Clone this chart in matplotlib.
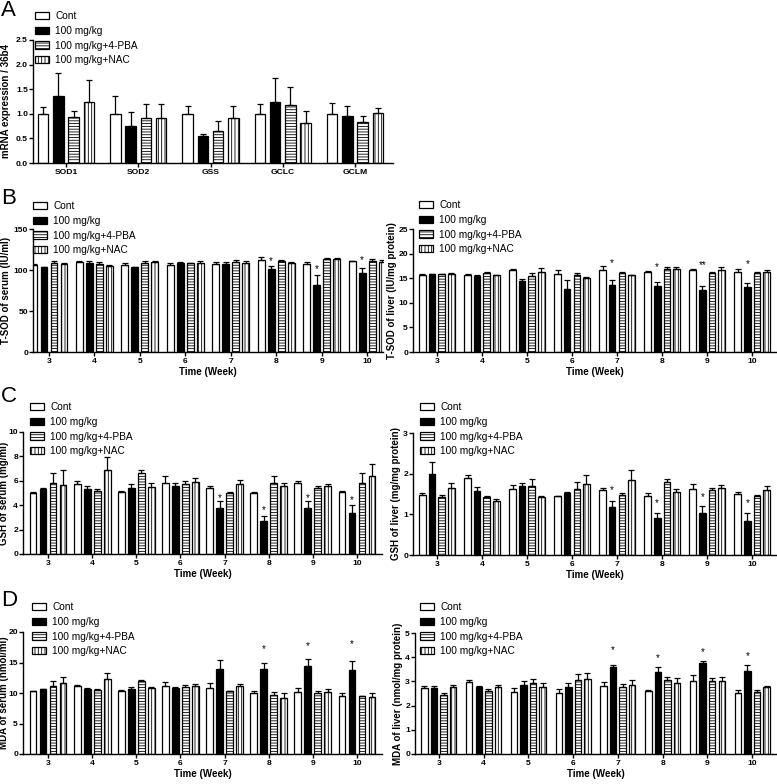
import numpy as np
import matplotlib
matplotlib.use('Agg')
import matplotlib.pyplot as plt

plt.rcParams['font.family'] = ['Liberation Sans', 'DejaVu Sans']
plt.rcParams['hatch.linewidth'] = 0.6

W, H = 777, 784

# ---- datos ----
groups = ['Cont', '100 mg/kg', '100 mg/kg+4-PBA', '100 mg/kg+NAC']
genes = ['SOD1', 'SOD2', 'GSS', 'GCLC', 'GCLM']
weeks = [3, 4, 5, 6, 7, 8, 9, 10]

# A: mRNA / 36b4
mrna_cont = [1.0, 1.0, 1.0, 1.0, 1.0]
mrna_cont_sem = [0.14, 0.37, 0.15, 0.20, 0.22]
mrna_high = [1.37, 0.76, 0.54, 1.25, 0.96]
mrna_high_sem = [0.45, 0.27, 0.05, 0.48, 0.19]
mrna_pba = [0.94, 0.92, 0.66, 1.17, 0.83]
mrna_pba_sem = [0.11, 0.28, 0.19, 0.37, 0.12]
mrna_nac = [1.23, 0.92, 0.91, 0.82, 1.01]
mrna_nac_sem = [0.45, 0.28, 0.24, 0.24, 0.11]

# B: T-SOD suero
sod_s_cont = [105.7, 109.3, 106.5, 106.1, 107.7, 112.6, 106.9, 110.6]
sod_s_cont_sem = [2.0, 2.1, 2.0, 2.0, 2.5, 2.8, 3.3, 0.8]
sod_s_high = [103.3, 108.5, 103.3, 108.1, 107.3, 100.8, 81.7, 96.7]
sod_s_high_sem = [0.6, 2.1, 0.5, 1.7, 2.5, 4.1, 12.2, 5.7]
sod_s_pba = [108.5, 107.7, 108.5, 108.5, 109.8, 111.4, 113.4, 111.4]
sod_s_pba_sem = [2.9, 2.1, 2.9, 0.5, 2.4, 0.8, 0.8, 2.0]
sod_s_nac = [107.7, 104.9, 109.3, 108.5, 108.5, 108.1, 113.4, 109.8]
sod_s_nac_sem = [1.3, 1.1, 2.1, 2.1, 2.5, 1.7, 0.8, 2.0]
sod_s_stars = [(8, 111.0, '*'), (9, 101.0, '*'), (10, 112.5, '*')]

# B: T-SOD higado
sod_l_cont = [15.6, 15.75, 16.75, 15.8, 16.75, 16.2, 16.75, 16.3]
sod_l_cont_sem = [0.35, 0.15, 0.15, 0.95, 0.65, 0.35, 0.2, 0.6]
sod_l_high = [15.8, 15.4, 14.5, 12.8, 13.7, 13.5, 12.6, 13.2]
sod_l_high_sem = [0.15, 0.2, 0.4, 1.9, 1.0, 0.75, 0.85, 0.9]
sod_l_pba = [15.8, 16.0, 15.35, 15.6, 16.0, 16.8, 16.1, 16.1]
sod_l_pba_sem = [0.15, 0.2, 0.8, 0.4, 0.2, 0.4, 0.25, 0.25]
sod_l_nac = [15.95, 15.55, 16.2, 15.1, 15.55, 16.95, 16.75, 16.2]
sod_l_nac_sem = [0.15, 0.15, 0.8, 0.2, 0.15, 0.3, 0.45, 0.4]
sod_l_stars = [(7, 18.1, '*'), (8, 17.3, '*'), (9, 17.7, '**'), (10, 17.9, '*')]

# C: GSH suero
gsh_s_cont = [5.0, 5.75, 5.1, 5.85, 5.45, 5.0, 5.8, 5.1]
gsh_s_cont_sem = [0.12, 0.25, 0.1, 0.55, 0.1, 0.1, 0.2, 0.1]
gsh_s_high = [5.35, 5.3, 5.4, 5.55, 3.8, 2.7, 3.8, 3.35]
gsh_s_high_sem = [0.1, 0.3, 0.35, 0.25, 0.55, 0.45, 0.55, 0.7]
gsh_s_pba = [5.8, 5.2, 6.65, 5.7, 5.0, 5.85, 5.45, 5.85]
gsh_s_pba_sem = [0.8, 0.15, 0.2, 0.3, 0.1, 0.55, 0.1, 0.75]
gsh_s_nac = [5.65, 6.9, 5.5, 5.9, 5.75, 5.55, 5.55, 6.4]
gsh_s_nac_sem = [1.25, 1.05, 0.3, 0.3, 0.35, 0.25, 0.2, 1.0]
gsh_s_stars = [(7, 4.6, '*'), (8, 3.6, '*'), (9, 4.6, '*'), (10, 4.4, '*')]

# C: GSH higado
gsh_l_cont = [1.48, 1.89, 1.62, 1.44, 1.61, 1.46, 1.62, 1.50]
gsh_l_cont_sem = [0.05, 0.07, 0.10, 0.02, 0.04, 0.07, 0.12, 0.05]
gsh_l_high = [1.98, 1.58, 1.69, 1.52, 1.19, 0.90, 1.03, 0.84]
gsh_l_high_sem = [0.30, 0.09, 0.09, 0.02, 0.15, 0.13, 0.17, 0.20]
gsh_l_pba = [1.43, 1.43, 1.70, 1.63, 1.48, 1.80, 1.59, 1.45]
gsh_l_pba_sem = [0.04, 0.02, 0.16, 0.16, 0.04, 0.06, 0.06, 0.02]
gsh_l_nac = [1.65, 1.34, 1.42, 1.74, 1.85, 1.56, 1.65, 1.61]
gsh_l_nac_sem = [0.11, 0.03, 0.03, 0.22, 0.24, 0.07, 0.06, 0.09]
gsh_l_stars = [(7, 1.59, '*'), (8, 1.27, '*'), (9, 1.43, '*'), (10, 1.28, '*')]

# D: MDA suero
mda_s_cont = [10.3, 11.1, 10.4, 11.15, 10.8, 10.0, 10.1, 9.5]
mda_s_cont_sem = [0.1, 0.15, 0.05, 0.6, 0.8, 0.3, 0.75, 0.55]
mda_s_high = [10.6, 10.6, 10.65, 10.85, 14.0, 13.9, 14.4, 13.8]
mda_s_high_sem = [0.1, 0.3, 0.4, 0.2, 1.4, 1.1, 1.1, 1.5]
mda_s_pba = [11.1, 10.5, 11.9, 11.0, 10.3, 9.7, 10.0, 9.5]
mda_s_pba_sem = [0.8, 0.1, 0.2, 0.3, 0.1, 0.4, 0.3, 0.05]
mda_s_nac = [11.7, 12.3, 10.8, 11.2, 11.1, 9.2, 10.1, 9.3]
mda_s_nac_sem = [1.0, 1.0, 0.25, 0.3, 0.3, 0.8, 0.55, 0.65]
mda_s_stars = [(8, 17.2, '*'), (9, 17.7, '*'), (10, 18.0, '*')]

# D: MDA higado
mda_l_cont = [2.72, 2.97, 2.58, 2.52, 2.83, 2.60, 3.0, 2.52]
mda_l_cont_sem = [0.10, 0.10, 0.14, 0.16, 0.14, 0.06, 0.25, 0.13]
mda_l_high = [2.72, 2.78, 2.85, 2.75, 3.60, 3.40, 3.75, 3.45]
mda_l_high_sem = [0.11, 0.05, 0.18, 0.17, 0.07, 0.20, 0.08, 0.22]
mda_l_pba = [2.45, 2.60, 2.95, 3.05, 2.75, 3.05, 3.0, 2.55]
mda_l_pba_sem = [0.07, 0.07, 0.15, 0.25, 0.13, 0.15, 0.12, 0.08]
mda_l_nac = [2.75, 2.75, 2.77, 3.10, 2.85, 2.95, 3.0, 2.75]
mda_l_nac_sem = [0.12, 0.10, 0.15, 0.25, 0.20, 0.17, 0.20, 0.07]
mda_l_stars = [(7, 4.28, '*'), (8, 3.98, '*'), (9, 4.2, '*'), (10, 4.04, '*')]

# estilos de las barras
styles = [dict(facecolor='white', hatch=None),
          dict(facecolor='black', hatch=None),
          dict(facecolor='white', hatch='------'),
          dict(facecolor='white', hatch='|||||')]

fig = plt.figure(figsize=(W / 100, H / 100), dpi=100)


def make_ax(l, t, r, b):
    ax = fig.add_axes([l / W, 1 - b / H, (r - l) / W, (b - t) / H])
    ax._px = (l, t, r, b)
    return ax


def panel(ax, xs, series, sems, slot, width, ylim, yticks, ylabel, xlabel,
          xticklabels, xlim, leg_xy, ylab_x, stars=None, yfmt=None):
    xs = np.arange(len(xs)) if xticklabels is not None else np.array(xs, float)
    offs = (np.arange(4) - 1.5) * slot
    for i in range(4):
        ax.bar(xs + offs[i], series[i], width, edgecolor='black', linewidth=0.9,
               label=groups[i], zorder=2, **styles[i])
        ax.errorbar(xs + offs[i], series[i],
                    yerr=[np.zeros(len(xs)), sems[i]], fmt='none',
                    ecolor='black', elinewidth=0.9, capsize=2.0, capthick=0.9,
                    zorder=3)
    if stars:
        for wk, y, s in stars:
            ax.text(wk + offs[1], y, s, ha='center', va='center', fontsize=7)
    ax.set_xlim(*xlim)
    ax.set_ylim(*ylim)
    ax.set_yticks(yticks)
    if yfmt:
        ax.set_yticklabels([yfmt % v for v in yticks])
    ax.set_xticks(xs)
    if xticklabels is not None:
        ax.set_xticklabels(xticklabels)
    else:
        ax.set_xticklabels([str(w) for w in weeks])
    for s in ['top', 'right']:
        ax.spines[s].set_visible(False)
    for s in ['left', 'bottom']:
        ax.spines[s].set_linewidth(1.0)
    ax.tick_params(axis='both', length=3, width=1.0, labelsize=6.1, pad=1.0)
    ax.tick_params(axis='y', pad=0.6)
    for lab in ax.get_xticklabels() + ax.get_yticklabels():
        lab.set_fontweight('bold')
    ax.set_ylabel(ylabel, fontsize=7.0, fontweight='bold')
    l, t, r, b = ax._px
    ax.yaxis.set_label_coords((ylab_x - l) / (r - l), 0.5)
    ax.yaxis.label.set_va('center')
    if xlabel:
        ax.set_xlabel(xlabel, fontsize=7, fontweight='bold', labelpad=2)
    ax.legend(loc='upper left', bbox_to_anchor=(leg_xy[0] / W, 1 - leg_xy[1] / H),
              bbox_transform=fig.transFigure, frameon=False, fontsize=7.3,
              borderpad=0, borderaxespad=0, handlelength=1.4, handleheight=0.75,
              handletextpad=0.6, labelspacing=0.47)


# A
ax = make_ax(33, 40, 393, 163)
panel(ax, genes, [mrna_cont, mrna_high, mrna_pba, mrna_nac],
      [mrna_cont_sem, mrna_high_sem, mrna_pba_sem, mrna_nac_sem],
      0.212, 0.145, (0, 2.5), [0, 0.5, 1.0, 1.5, 2.0, 2.5],
      'mRNA expression / 36b4', None, genes, (-0.457, 4.526), (35, 11), 6,
      yfmt='%.1f')

# B
ax = make_ax(33, 229, 383, 352)
panel(ax, weeks, [sod_s_cont, sod_s_high, sod_s_pba, sod_s_nac],
      [sod_s_cont_sem, sod_s_high_sem, sod_s_pba_sem, sod_s_nac_sem],
      0.22, 0.15, (0, 150), [0, 50, 100, 150], 'T-SOD of serum (IU/ml)',
      'Time (Week)', None, (2.65, 10.35), (33, 201), 6, stars=sod_s_stars)
ax = make_ax(413, 229, 776, 352)
panel(ax, weeks, [sod_l_cont, sod_l_high, sod_l_pba, sod_l_nac],
      [sod_l_cont_sem, sod_l_high_sem, sod_l_pba_sem, sod_l_nac_sem],
      0.213, 0.145, (0, 25), [0, 5, 10, 15, 20, 25], 'T-SOD of liver (IU/mg protein)',
      'Time (Week)', None, (2.47, 10.53), (419, 200), 392, stars=sod_l_stars)

# C
ax = make_ax(23, 432, 382, 554)
panel(ax, weeks, [gsh_s_cont, gsh_s_high, gsh_s_pba, gsh_s_nac],
      [gsh_s_cont_sem, gsh_s_high_sem, gsh_s_pba_sem, gsh_s_nac_sem],
      0.226, 0.15, (0, 10), [0, 2, 4, 6, 8, 10], 'GSH of serum (mg/ml)',
      'Time (Week)', None, (2.43, 10.57), (30, 402), 4.0, stars=gsh_s_stars)
ax = make_ax(413, 433, 776, 555)
panel(ax, weeks, [gsh_l_cont, gsh_l_high, gsh_l_pba, gsh_l_nac],
      [gsh_l_cont_sem, gsh_l_high_sem, gsh_l_pba_sem, gsh_l_nac_sem],
      0.213, 0.145, (0, 3), [0, 1, 2, 3], 'GSH of liver (mg/mg protein)',
      'Time (Week)', None, (2.47, 10.53), (420, 402), 396, stars=gsh_l_stars)

# D
ax = make_ax(23, 632, 382, 754)
panel(ax, weeks, [mda_s_cont, mda_s_high, mda_s_pba, mda_s_nac],
      [mda_s_cont_sem, mda_s_high_sem, mda_s_pba_sem, mda_s_nac_sem],
      0.226, 0.15, (0, 20), [0, 5, 10, 15, 20], 'MDA of serum (nmol/ml)',
      'Time (Week)', None, (2.43, 10.57), (32, 602), 4.0, stars=mda_s_stars)
ax = make_ax(415, 633, 776, 754)
panel(ax, weeks, [mda_l_cont, mda_l_high, mda_l_pba, mda_l_nac],
      [mda_l_cont_sem, mda_l_high_sem, mda_l_pba_sem, mda_l_nac_sem],
      0.213, 0.145, (0, 5), [0, 1, 2, 3, 4, 5], 'MDA of liver (nmol/mg protein)',
      'Time (Week)', None, (2.47, 10.53), (420, 602), 398, stars=mda_l_stars)

# letras de los paneles
for letra, y in [('A', 11), ('B', 198), ('C', 397), ('D', 600)]:
    fig.text(1 / W, 1 - y / H, letra, fontsize=16, va='center', ha='left')

fig.savefig('out.png', dpi=100)
